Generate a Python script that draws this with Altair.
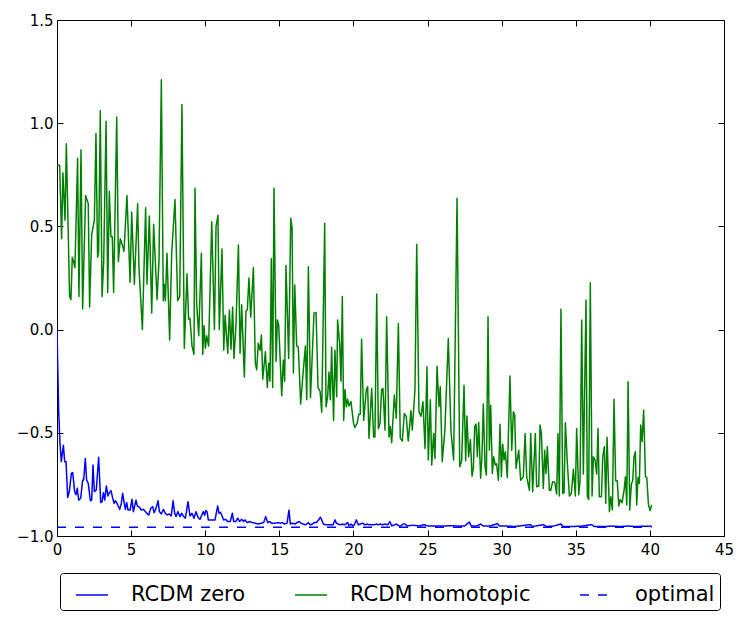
import altair as alt
import pandas as pd

series_names = ["RCDM zero", "RCDM homotopic", "optimal"]
series_colors = ["#0000ff", "#008000", "#0000ff"]
series_dash = [[1, 0], [1, 0], [9, 9]]

x_ticks = [0, 5, 10, 15, 20, 25, 30, 35, 40, 45]
y_ticks = [-1.0, -0.5, 0.0, 0.5, 1.0, 1.5]

blue_x = [
    0.00, 0.11, 0.20, 0.29, 0.43, 0.52, 0.61, 0.72, 0.83, 0.97, 1.06, 1.19, 1.28, 1.37, 1.46,
    1.60, 1.73, 1.80, 1.91, 2.00, 2.11, 2.25, 2.34, 2.43, 2.52, 2.65, 2.81, 2.95, 3.04, 3.13,
    3.22, 3.33, 3.44, 3.53, 3.64, 3.76, 3.85, 3.94, 4.07, 4.23, 4.34, 4.43, 4.52, 4.61, 4.70,
    4.79, 4.93, 5.06, 5.15, 5.24, 5.33, 5.42, 5.56, 5.69, 5.83, 5.96, 6.10, 6.19, 6.32, 6.46,
    6.55, 6.68, 6.82, 6.91, 7.04, 7.18, 7.31, 7.44, 7.58, 7.71, 7.83, 7.94, 8.03, 8.16, 8.30,
    8.41, 8.52, 8.66, 8.84, 8.97, 9.11, 9.24, 9.38, 9.51, 9.65, 9.87, 9.96, 10.03, 10.12, 10.21,
    10.50, 10.66, 10.84, 10.93, 11.02, 11.11, 11.24, 11.38, 11.51, 11.69, 11.83, 11.92, 12.06,
    12.19, 12.32, 12.46, 12.59, 12.68, 12.82, 13.00, 13.18, 13.36, 13.58, 13.81, 13.94, 14.08,
    14.21, 14.35, 14.48, 14.71, 14.93, 15.07, 15.20, 15.34, 15.52, 15.65, 15.74, 15.88, 16.06,
    16.19, 16.33, 16.46, 16.60, 16.78, 16.96, 17.09, 17.23, 17.36, 17.50, 17.68, 17.77, 17.86,
    17.97, 18.13, 18.31, 18.49, 18.62, 18.76, 18.85, 18.98, 19.12, 19.25, 19.39, 19.48, 19.61,
    19.70, 19.84, 19.97, 20.06, 20.20, 20.33, 20.47, 20.60, 20.78, 20.92, 21.10, 21.23, 21.37,
    21.55, 21.68, 21.82, 21.95, 22.13, 22.31, 22.45, 22.58, 22.76, 22.89, 23.07, 23.21, 23.34,
    23.48, 23.61, 24.00, 24.50, 24.75, 25.00, 25.50, 26.00, 26.60, 27.00, 27.50, 27.82, 27.95,
    28.30, 28.59, 28.75, 29.20, 29.71, 29.85, 30.40, 30.90, 31.92, 32.10, 32.82, 33.00, 33.50,
    33.99, 34.15, 34.80, 35.40, 36.08, 36.25, 37.00, 37.50, 38.00, 38.50, 39.00, 39.50, 40.12,
]
blue_y = [
    0.00, -0.39, -0.551, -0.64, -0.56, -0.64, -0.64, -0.813, -0.785, -0.696, -0.693, -0.785, -0.80, -0.769, -0.826,
    -0.817, -0.729, -0.729, -0.624, -0.729, -0.745, -0.829, -0.826, -0.656, -0.785, -0.777, -0.619, -0.838, -0.834, -0.79,
    -0.826, -0.758, -0.806, -0.79, -0.78, -0.817, -0.842, -0.829, -0.845, -0.871, -0.842, -0.793, -0.834, -0.871, -0.838,
    -0.874, -0.874, -0.822, -0.882, -0.855, -0.826, -0.855, -0.861, -0.874, -0.871, -0.882, -0.893, -0.898, -0.866, -0.858,
    -0.887, -0.866, -0.829, -0.882, -0.893, -0.871, -0.89, -0.898, -0.893, -0.903, -0.829, -0.89, -0.906, -0.882, -0.906,
    -0.89, -0.903, -0.914, -0.834, -0.903, -0.89, -0.914, -0.882, -0.909, -0.919, -0.882, -0.90, -0.877, -0.882, -0.922,
    -0.922, -0.922, -0.854, -0.89, -0.885, -0.898, -0.922, -0.919, -0.93, -0.93, -0.89, -0.93, -0.93,
    -0.914, -0.93, -0.919, -0.93, -0.922, -0.935, -0.93, -0.935, -0.938, -0.942, -0.938, -0.935, -0.906,
    -0.935, -0.93, -0.938, -0.938, -0.935, -0.938, -0.935, -0.942, -0.938, -0.874, -0.942, -0.938, -0.942,
    -0.935, -0.93, -0.938, -0.942, -0.946, -0.935, -0.946, -0.942, -0.935, -0.935, -0.919, -0.909, -0.922,
    -0.942, -0.946, -0.946, -0.946, -0.946, -0.922, -0.938, -0.942, -0.946, -0.942, -0.946, -0.942, -0.935,
    -0.951, -0.942, -0.951, -0.946, -0.922, -0.946, -0.942, -0.938, -0.946, -0.942, -0.946, -0.946, -0.946,
    -0.942, -0.946, -0.942, -0.946, -0.942, -0.946, -0.93, -0.951, -0.946, -0.942, -0.951, -0.951, -0.942,
    -0.942, -0.951, -0.948, -0.951, -0.945, -0.951, -0.951, -0.952, -0.95, -0.952, -0.952, -0.932, -0.952,
    -0.952, -0.942, -0.952, -0.952, -0.94, -0.952, -0.952, -0.954, -0.945, -0.954, -0.945, -0.954, -0.952,
    -0.942, -0.954, -0.954, -0.952, -0.945, -0.954, -0.954, -0.952, -0.954, -0.952, -0.954, -0.953, -0.952,
]

green_x = [
    0.00, 0.18, 0.31, 0.40, 0.54, 0.63, 0.85, 0.94, 1.03, 1.12, 1.21, 1.39, 1.48, 1.62, 1.73,
    1.93, 2.11, 2.20, 2.34, 2.52, 2.63, 2.74, 2.81, 2.92, 3.04, 3.15, 3.31, 3.42, 3.53, 3.64,
    3.73, 3.82, 4.03, 4.14, 4.27, 4.36, 4.52, 4.72, 4.93, 5.04, 5.22, 5.44, 5.53, 5.76, 5.98,
    6.07, 6.23, 6.39, 6.52, 6.75, 6.88, 7.04, 7.17, 7.24, 7.31, 7.42, 7.60, 7.74, 7.96, 8.14,
    8.28, 8.43, 8.59, 8.77, 8.88, 8.97, 9.11, 9.24, 9.31, 9.42, 9.56, 9.74, 9.83, 9.92, 10.01,
    10.10, 10.23, 10.44, 10.62, 10.73, 10.86, 10.95, 11.13, 11.25, 11.34, 11.52, 11.63, 11.74,
    11.85, 11.94, 12.08, 12.24, 12.35, 12.46, 12.64, 12.75, 12.84, 12.95, 13.07, 13.25, 13.38,
    13.47, 13.58, 13.70, 13.79, 13.88, 14.06, 14.19, 14.28, 14.37, 14.46, 14.55, 14.64, 14.78,
    14.87, 14.96, 15.16, 15.27, 15.36, 15.45, 15.63, 15.77, 15.86, 15.95, 16.04, 16.17, 16.28,
    16.44, 16.62, 16.76, 16.85, 16.96, 17.10, 17.34, 17.48, 17.61, 17.75, 17.86, 18.06, 18.15,
    18.26, 18.35, 18.44, 18.53, 18.66, 18.75, 18.87, 18.93, 19.07, 19.16, 19.25, 19.34, 19.43,
    19.52, 19.61, 19.70, 19.83, 20.01, 20.10, 20.24, 20.37, 20.46, 20.55, 20.69, 20.87, 20.96,
    21.05, 21.23, 21.36, 21.45, 21.57, 21.68, 21.79, 21.90, 21.99, 22.13, 22.24, 22.40, 22.49,
    22.58, 22.76, 22.89, 23.03, 23.16, 23.30, 23.43, 23.56, 23.70, 23.88, 23.97, 24.15, 24.27,
    24.42, 24.56, 24.69, 24.83, 24.96, 25.05, 25.19, 25.28, 25.41, 25.50, 25.64, 25.77, 25.86,
    25.99, 26.17, 26.40, 26.58, 26.76, 26.99, 27.17, 27.30, 27.46, 27.57, 27.66, 27.77, 27.89,
    28.00, 28.09, 28.18, 28.27, 28.36, 28.45, 28.58, 28.67, 28.76, 28.88, 28.97, 29.08, 29.17,
    29.26, 29.37, 29.46, 29.57, 29.66, 29.78, 29.89, 29.98, 30.07, 30.16, 30.25, 30.38, 30.56,
    30.68, 30.79, 30.88, 30.97, 31.15, 31.28, 31.46, 31.58, 31.69, 31.87, 31.96, 32.09, 32.27,
    32.36, 32.50, 32.59, 32.68, 32.81, 32.90, 32.99, 33.08, 33.22, 33.31, 33.44, 33.58, 33.71,
    33.80, 33.89, 34.00, 34.12, 34.21, 34.30, 34.43, 34.57, 34.70, 34.84, 34.97, 35.06, 35.20,
    35.29, 35.40, 35.51, 35.69, 35.78, 35.87, 35.98, 36.10, 36.19, 36.30, 36.41, 36.50, 36.59,
    36.73, 36.82, 36.93, 37.02, 37.11, 37.27, 37.36, 37.47, 37.58, 37.69, 37.80, 37.90, 37.99,
    38.12, 38.26, 38.35, 38.44, 38.53, 38.64, 38.75, 38.84, 38.93, 39.02, 39.11, 39.20, 39.29,
    39.38, 39.47, 39.58, 39.70, 39.79, 39.90, 40.01, 40.12,
]
green_y = [
    0.80, 0.795, 0.44, 0.76, 0.53, 0.90, 0.16, 0.145, 0.35, 0.33, 0.30, 0.83, 0.16, 0.87, 0.10,
    0.65, 0.61, 0.11, 0.46, 0.53, 0.95, 0.35, 0.38, 1.06, 0.16, 0.33, 1.01, 0.18, 0.67, 0.45,
    0.45, 0.18, 1.03, 0.33, 0.44, 0.42, 0.38, 0.65, 0.23, 0.57, 0.22, 0.61, 0.30, 0.00, 0.59,
    0.22, 0.55, 0.08, 0.51, 0.145, 0.33, 1.21, 0.14, 0.22, 0.14, 0.37, -0.05, 0.375, 0.63, 0.14,
    0.16, 1.09, -0.09, 0.27, 0.05, 0.055, -0.08, -0.12, 0.685, 0.128, -0.03, 0.37, -0.12, 0.02, -0.09,
    -0.03, -0.08, 0.523, 0.00, 0.50, 0.554, 0.00, 0.39, -0.10, 0.07, -0.115, 0.095, -0.095,
    0.11, -0.14, 0.03, 0.41, -0.115, 0.12, -0.23, 0.09, 0.095, 0.25, 0.06, 0.30, -0.16,
    -0.195, -0.066, -0.10, -0.026, -0.24, -0.107, -0.28, -0.163, -0.25, 0.345, -0.28, 0.685, -0.155,
    0.047, 0.02, -0.32, -0.147, -0.25, 0.31, -0.14, 0.54, 0.49, -0.21, 0.216, -0.08, -0.085,
    -0.36, -0.195, -0.08, -0.34, 0.305, -0.33, 0.08, 0.083, -0.28, -0.30, -0.40, 0.515, -0.374,
    -0.325, -0.205, -0.34, -0.086, -0.44, -0.10, -0.325, 0.046, -0.067, -0.25, 0.16, -0.44, -0.29,
    -0.374, -0.338, -0.37, -0.348, -0.455, -0.474, -0.455, -0.41, -0.41, -0.047, -0.44, -0.29, -0.277,
    -0.527, -0.285, -0.52, -0.52, 0.172, -0.48, -0.455, -0.29, -0.285, -0.487, 0.062, -0.52, -0.47,
    -0.548, -0.317, -0.43, 0.03, -0.527, -0.54, -0.406, -0.42, -0.54, -0.393, -0.487, -0.29, 0.414,
    -0.398, -0.42, -0.35, -0.576, -0.18, -0.632, -0.34, -0.656, -0.503, -0.624, -0.177, -0.374, -0.277,
    -0.64, -0.487, -0.043, -0.495, -0.632, 0.636, -0.665, -0.635, -0.27, -0.635, -0.419, -0.616, -0.532,
    -0.71, -0.672, -0.47, -0.458, -0.616, -0.45, -0.72, -0.616, -0.36, -0.664, -0.705, 0.062, -0.584,
    -0.366, -0.697, -0.616, -0.656, -0.65, -0.73, -0.458, -0.713, -0.555, -0.632, -0.592, -0.716, -0.225,
    -0.584, -0.398, -0.414, -0.672, -0.584, -0.73, -0.713, -0.503, -0.713, -0.778, -0.503, -0.786, -0.503,
    -0.761, -0.758, -0.462, -0.503, -0.77, -0.584, -0.697, -0.567, -0.778, -0.778, -0.737, -0.74, -0.797,
    -0.503, -0.806, 0.098, -0.794, -0.79, -0.451, -0.648, -0.806, -0.794, -0.677, -0.806, -0.479, -0.80,
    -0.729, 0.046, -0.70, 0.143, -0.81, -0.823, 0.227, -0.806, -0.616, -0.632, -0.70, -0.479, -0.81,
    -0.81, -0.616, -0.567, -0.842, -0.522, -0.882, -0.81, -0.874, -0.338, -0.732, -0.732, -0.855, -0.823,
    -0.839, -0.778, -0.713, -0.85, -0.253, -0.874, -0.748, -0.732, -0.616, -0.592, -0.85, -0.716, -0.745,
    -0.462, -0.543, -0.39, -0.713, -0.716, -0.846, -0.877, -0.85,
]

optimal_x = [0.0, 40.12]
optimal_y = [-0.958, -0.958]

rows = []
for name, xs, ys in (
    (series_names[0], blue_x, blue_y),
    (series_names[1], green_x, green_y),
    (series_names[2], optimal_x, optimal_y),
):
    for i, (a, b) in enumerate(zip(xs, ys)):
        rows.append({"series": name, "x": a, "y": b, "i": i})
df = pd.DataFrame(rows)

xscale = alt.Scale(domain=[0, 45], nice=False, zero=False)
yscale = alt.Scale(domain=[-1.0, 1.5], nice=False, zero=False)

common = dict(
    domain=False, grid=False, ticks=True, tickColor="black", tickSize=6, tickWidth=1,
    offset=-6, labelFont="DejaVu Sans", labelFontSize=15, labelColor="black",
    labelFlush=False, labelOverlap=False, labelBound=False,
)
x_bottom = alt.Axis(orient="bottom", values=x_ticks, format="d", labelPadding=6, **common)
y_left = alt.Axis(orient="left", values=y_ticks, format=".1f", labelPadding=4, **common)
x_top = alt.Axis(orient="top", values=x_ticks, labels=False, **common)
y_right = alt.Axis(orient="right", values=y_ticks, labels=False, **common)

legend = alt.Legend(
    orient="none", legendX=3, legendY=553, direction="horizontal", title=None,
    symbolType="stroke", symbolSize=1024, symbolStrokeWidth=1.5,
    labelFont="DejaVu Sans", labelFontSize=21, labelLimit=400, labelColor="black",
    labelOffset=22, columnPadding=38, padding=5, symbolOffset=10, cornerRadius=3,
    strokeColor="black", fillColor="white",
)

# drop shadow behind the legend box: a one-entry legend whose symbol is a wide grey bar
shadow_w, shadow_h = 665, 37
shadow_legend = alt.Legend(
    orient="none", legendX=6, legendY=556, direction="horizontal", title=None,
    values=[series_names[0]], labelExpr="''", labelFontSize=1, labelOffset=0,
    symbolType="M-1,-%.4fH1V%.4fH-1Z" % (shadow_h / shadow_w, shadow_h / shadow_w),
    symbolSize=shadow_w * shadow_w, symbolOpacity=1, symbolStrokeWidth=0,
    symbolOffset=0, padding=0,
)

frame = alt.Chart(df).mark_point(filled=True, opacity=0).encode(
    x=alt.X("x:Q", scale=xscale, axis=x_top, title=None),
    y=alt.Y("y:Q", scale=yscale, axis=y_right, title=None),
    fill=alt.Fill("series:N", scale=alt.Scale(domain=series_names[::-1], range=["#808080"] * 3),
                  legend=shadow_legend),
)

lines = alt.Chart(df).mark_line(strokeWidth=1.5, strokeJoin="round", clip=True).encode(
    x=alt.X("x:Q", scale=xscale, axis=x_bottom, title=None),
    y=alt.Y("y:Q", scale=yscale, axis=y_left, title=None),
    color=alt.Color("series:N", scale=alt.Scale(domain=series_names, range=series_colors), legend=legend),
    strokeDash=alt.StrokeDash("series:N", scale=alt.Scale(domain=series_names, range=series_dash), legend=legend),
    order="i:Q",
)

chart = alt.layer(frame, lines).resolve_axis(x="independent", y="independent").properties(
    width=667, height=516,
    autosize=alt.AutoSizeParams(type="none"),
    padding={"left": 49, "top": 12, "right": 13, "bottom": 76},
    background="white",
).configure_view(stroke="black", strokeWidth=1)

chart.save("out.html", embed_options={"renderer": "svg", "actions": False})
